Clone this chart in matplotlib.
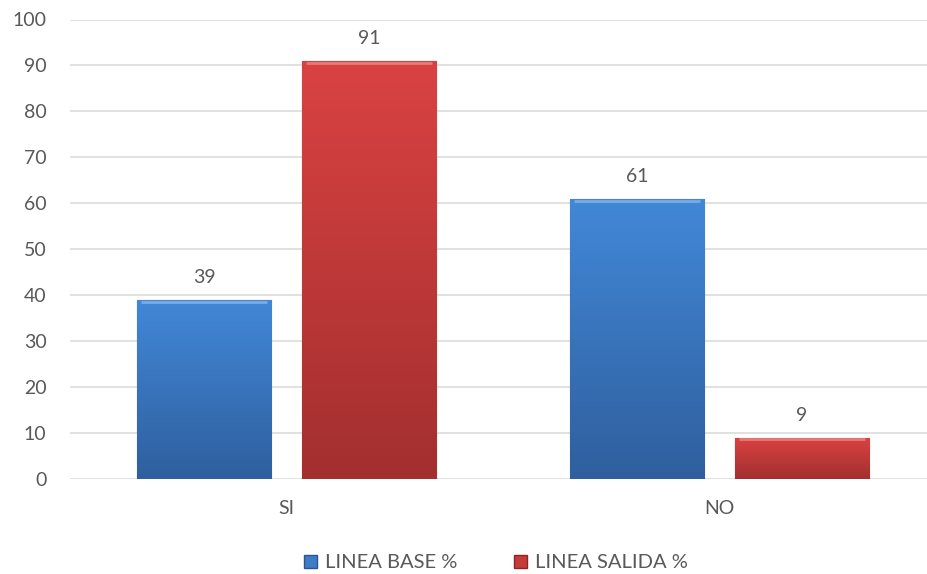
import matplotlib
matplotlib.use("Agg")
import matplotlib.pyplot as plt
import numpy as np
from matplotlib.patches import Patch
from matplotlib.colors import LinearSegmentedColormap

categories = ["SI", "NO"]
series_names = ["LINEA BASE %", "LINEA SALIDA %"]
linea_base = [39, 61]
linea_salida = [91, 9]
y_ticks = [0, 10, 20, 30, 40, 50, 60, 70, 80, 90, 100]

plt.rcParams['font.family'] = ['Lato', 'DejaVu Sans']
text_color = "#595959"
fs = 14

fig = plt.figure(figsize=(9.28, 5.74), dpi=100)
ax = fig.add_axes([70/928, 95/574, 866/928, 459.5/574])

x = np.arange(len(categories))
bw = 0.31
off = 0.19

grads = [("#4288d8", "#2f5f9e", "#2a568f"), ("#da4242", "#a32f2f", "#8a2626")]
series = [linea_base, linea_salida]
for i, (vals, (ctop, cbot, cedge)) in enumerate(zip(series, grads)):
    pos = x + (-off if i == 0 else off)
    bars = ax.bar(pos, vals, width=bw, color=cbot, edgecolor=cedge, linewidth=0.8, zorder=3)
    cmap = LinearSegmentedColormap.from_list("g%d" % i, [cbot, ctop])
    grad = np.linspace(0, 1, 256).reshape(-1, 1)
    for b, v in zip(bars, vals):
        x0 = b.get_x(); w = b.get_width()
        im = ax.imshow(grad, cmap=cmap, aspect='auto', origin='lower',
                       extent=[x0, x0 + w, 0, v], zorder=3.5)
        im.set_clip_path(b)
        ax.plot([x0 + w*0.03, x0 + w*0.97], [v - 0.4, v - 0.4], color="white", alpha=0.3,
                lw=2, zorder=4, solid_capstyle='butt')
        ax.text(b.get_x() + w/2, v + 3.0, f"{v}", ha='center', va='bottom',
                fontsize=fs, color=text_color, zorder=5)

ax.set_xlim(-0.5, 1.5)
ax.set_ylim(0, 100)
ax.set_yticks(y_ticks)
ax.set_xticks(x)
ax.set_xticklabels(categories)
ax.grid(axis='y', color="#d9d9d9", linewidth=1.1, zorder=0)
ax.set_axisbelow(True)
for s in ax.spines.values():
    s.set_visible(False)
ax.tick_params(axis='y', length=0, pad=17, labelsize=fs, labelcolor=text_color)
ax.tick_params(axis='x', length=0, pad=15, labelsize=fs, labelcolor=text_color)

handles = [Patch(facecolor="#3f7bc6", edgecolor="#2a568f", label=series_names[0]),
           Patch(facecolor="#c63a3a", edgecolor="#8a2626", label=series_names[1])]
leg = fig.legend(handles=handles, loc='center', bbox_to_anchor=(496/928, 1 - 563/574),
                 ncol=2, frameon=False, fontsize=14.5, handlelength=0.65, handleheight=0.65,
                 handletextpad=0.4, columnspacing=2.8)
for t in leg.get_texts():
    t.set_color(text_color)

fig.savefig("out.png", dpi=100)
